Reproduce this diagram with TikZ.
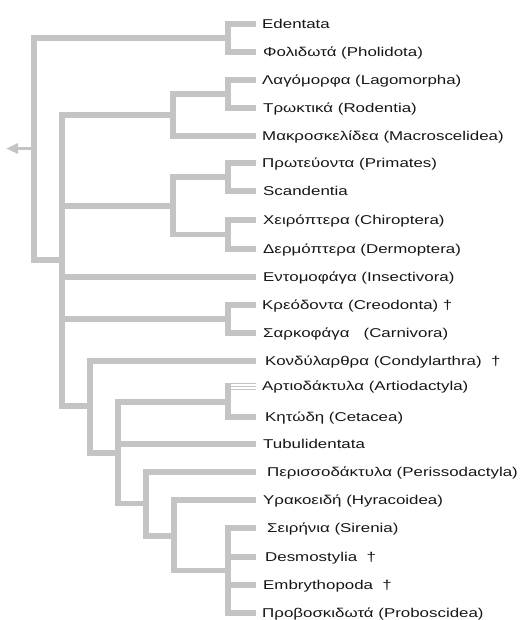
\documentclass[tikz,border=0pt]{standalone}
\usepackage{fontspec}
\setmainfont[FakeStretch=1.32]{Liberation Sans}
\usetikzlibrary{arrows.meta}
\definecolor{branchgray}{RGB}{196,196,196}
\definecolor{labelink}{RGB}{22,22,22}
\tikzset{
  br/.style={draw=branchgray, line width=5.5pt, line join=miter},
  thinbr/.style={draw=branchgray, line width=1.1pt},
  taxon/.style={anchor=base west, inner sep=0pt, text=labelink, font=\fontsize{12.8}{15}\selectfont},
}
\newcommand\mkleaf[4]{%
  \coordinate (#1) at (256,#2);
  \node[taxon] (#1-t) at (#3,#2) [yshift=-4.6pt] {#4};
}
\begin{document}
\begin{tikzpicture}[x=1pt,y=-1pt]
\useasboundingbox (0,0) rectangle (521,620);
% leaves
\mkleaf{l1}{24}{262}{Edentata}
\mkleaf{l2}{52}{263}{Φολιδωτά (Pholidota)}
\mkleaf{l3}{80}{262}{Λαγόμορφα (Lagomorpha)}
\mkleaf{l4}{108}{263}{Τρωκτικά (Rodentia)}
\mkleaf{l5}{136}{262}{Μακροσκελίδεα (Macroscelidea)}
\mkleaf{l6}{163}{262}{Πρωτεύοντα (Primates)}
\mkleaf{l7}{191}{263}{Scandentia}
\mkleaf{l8}{220}{263}{Χειρόπτερα (Chiroptera)}
\mkleaf{l9}{249}{263}{Δερμόπτερα (Dermoptera)}
\mkleaf{l10}{277}{263}{Εντομοφάγα (Insectivora)}
\mkleaf{l11}{305}{262}{Κρεόδοντα (Creodonta) †}
\mkleaf{l12}{333}{263}{Σαρκοφάγα\ \ \ (Carnivora)}
\mkleaf{l13}{361}{265}{Κονδύλαρθρα (Condylarthra)\ \ †}
\mkleaf{l14}{386.3}{262}{Αρτιοδάκτυλα (Artiodactyla)}
\mkleaf{l15}{417}{265}{Κητώδη (Cetacea)}
\mkleaf{l16}{444}{263}{Tubulidentata}
\mkleaf{l17}{472}{267}{Περισσοδάκτυλα (Perissodactyla)}
\mkleaf{l18}{500}{263}{Υρακοειδή (Hyracoidea)}
\mkleaf{l19}{528}{267}{Σειρήνια (Sirenia)}
\mkleaf{l20}{557}{265}{Desmostylia\ \ †}
\mkleaf{l21}{585}{263}{Embrythopoda\ \ †}
\mkleaf{l22}{613}{262}{Προβοσκιδωτά (Proboscidea)}
\coordinate (l14a) at (256,383.3);
\coordinate (l14c) at (256,389.3);
% internal nodes
\coordinate (root) at (34,148.5);
\coordinate (arr)  at (6,148.5);
\coordinate (n1)   at (228,38);
\coordinate (nA)   at (62,260);
\coordinate (nLR)  at (228,94);
\coordinate (nB)   at (173,115);
\coordinate (nPS)  at (228,177);
\coordinate (nCD)  at (228,234.5);
\coordinate (nC)   at (173,206);
\coordinate (nCC)  at (228,319);
\coordinate (nD)   at (90,406);
\coordinate (nE)   at (118,453);
\coordinate (nAC)  at (228,402);
\coordinate (nF)   at (146,503.5);
\coordinate (nG)   at (174,536);
\coordinate (nH)   at (228,570.5);
% root arrow
\draw[draw=branchgray, line width=3.5pt, -{Triangle[length=12pt,width=10pt]}] (root) -- (arr);
% branches
\draw[br] (root) |- (n1);
\draw[br] (root) |- (nA);
\draw[br] (n1) |- (l1);
\draw[br] (n1) |- (l2);
\draw[br] (nA) |- (nB);
\draw[br] (nA) |- (nC);
\draw[br] (nA) |- (l10);
\draw[br] (nA) |- (nCC);
\draw[br] (nA) |- (nD);
\draw[br] (nB) |- (nLR);
\draw[br] (nB) |- (l5);
\draw[br] (nLR) |- (l3);
\draw[br] (nLR) |- (l4);
\draw[br] (nC) |- (nPS);
\draw[br] (nC) |- (nCD);
\draw[br] (nPS) |- (l6);
\draw[br] (nPS) |- (l7);
\draw[br] (nCD) |- (l8);
\draw[br] (nCD) |- (l9);
\draw[br] (nCC) |- (l11);
\draw[br] (nCC) |- (l12);
\draw[br] (nD) |- (l13);
\draw[br] (nD) |- (nE);
\draw[br] (nE) |- (nAC);
\draw[br] (nE) |- (l16);
\draw[br] (nE) |- (nF);
\draw[br] (nAC) -- (nAC |- l14a);
\draw[thinbr] (nAC |- l14a) -- (l14a);
\draw[thinbr] (nAC |- l14) -- (l14);
\draw[thinbr] (nAC |- l14c) -- (l14c);
\draw[br] (nAC) |- (l15);
\draw[br] (nF) |- (l17);
\draw[br] (nF) |- (nG);
\draw[br] (nG) |- (l18);
\draw[br] (nG) |- (nH);
\draw[br] (nH) |- (l19);
\draw[br] (nH) |- (l20);
\draw[br] (nH) |- (l21);
\draw[br] (nH) |- (l22);
\end{tikzpicture}
\end{document}
